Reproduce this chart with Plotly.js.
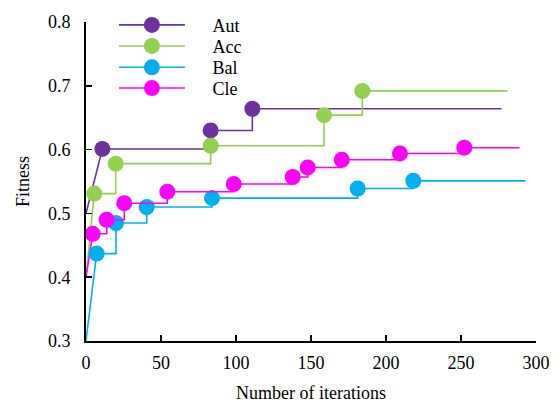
<!DOCTYPE html>
<html>
<head>
<meta charset="utf-8">
<script src="https://cdn.plot.ly/plotly-3.0.1.min.js"></script>
<style>html,body{margin:0;padding:0;background:#fff}#chart{width:560px;height:403px}</style>
</head>
<body>
<div id="chart"></div>
<script>
// ---- data ----
const seriesNames = ["Aut", "Acc", "Bal", "Cle"];
const seriesColors = ["#7030A0", "#92D050", "#00B0F0", "#FF00FF"];

const autStart = [0, 0.5];
const autX = [10.9, 83.1, 110.9];
const autY = [0.601, 0.630, 0.664];
const autEnd = 277;

const accStart = [0, 0.4];
const accX = [5.5, 19.8, 83.1, 158.7, 184.2];
const accY = [0.531, 0.578, 0.606, 0.654, 0.692];
const accEnd = 281;

const balStart = [0, 0.3];
const balX = [7.1, 20.0, 40.5, 84.0, 181.1, 218.2];
const balY = [0.437, 0.485, 0.510, 0.524, 0.539, 0.551];
const balEnd = 293;

const cleStart = [0, 0.4];
const cleX = [4.5, 13.8, 25.5, 54.2, 98.5, 137.8, 147.8, 170.5, 209.3, 252.2];
const cleY = [0.468, 0.490, 0.516, 0.534, 0.546, 0.557, 0.572, 0.584, 0.594, 0.603];
const cleEnd = 289;

const xTicks = [0, 50, 100, 150, 200, 250, 300];
const yTicks = [0.3, 0.4, 0.5, 0.6, 0.7, 0.8];

// ---- traces ----
const all = [
  [autStart, autX, autY, autEnd],
  [accStart, accX, accY, accEnd],
  [balStart, balX, balY, balEnd],
  [cleStart, cleX, cleY, cleEnd]
];

const FONT = "Liberation Serif, Times New Roman, serif";
const FS = 18;
const legendIds = ["legend", "legend2", "legend3", "legend4"];
const legendRowY = [0.990, 0.924, 0.857, 0.792];
const pad = "\u00a0\u00a0\u00a0\u00a0\u00a0";

const helpers = [];
const mains = [];
all.forEach((s, i) => {
  const [st, xs, ys, end] = s;
  const last = xs.length - 1;
  helpers.push({
    x: [st[0], xs[0], null, xs[last], end],
    y: [st[1], ys[0], null, ys[last], ys[last]],
    mode: "lines",
    line: {color: seriesColors[i], width: 1.6},
    showlegend: false,
    hoverinfo: "skip"
  });
  mains.push({
    x: xs, y: ys,
    name: pad + seriesNames[i],
    mode: "lines+markers",
    line: {color: seriesColors[i], width: 1.6, shape: "hv"},
    marker: {color: seriesColors[i], size: 16},
    legend: legendIds[i]
  });
});

const layout = {
  width: 560, height: 403,
  margin: {l: 86, r: 24, t: 22, b: 62, autoexpand: false},
  paper_bgcolor: "#fff", plot_bgcolor: "#fff",
  font: {family: FONT, size: FS, color: "#000"},
  showlegend: true,
  xaxis: {
    range: [0, 300], tickvals: xTicks, ticktext: xTicks.map(String),
    showline: true, linecolor: "#000", linewidth: 2, mirror: false,
    ticks: "inside", ticklen: 6, tickwidth: 1.5, tickcolor: "#000",
    showgrid: false, zeroline: false, ticklabelstandoff: 4,
    title: {text: "Number of iterations", font: {family: FONT, size: FS}, standoff: 20},
    tickfont: {family: FONT, size: FS}
  },
  yaxis: {
    range: [0.3, 0.8], tickvals: yTicks, ticktext: yTicks.map(v => v.toFixed(1)),
    showline: true, linecolor: "#000", linewidth: 2, mirror: false,
    ticks: "inside", ticklen: 6, tickwidth: 1.5, tickcolor: "#000",
    showgrid: false, zeroline: false, ticklabelstandoff: 10,
    title: {text: "Fitness", font: {family: FONT, size: FS}, standoff: 14},
    tickfont: {family: FONT, size: FS}
  }
};
legendIds.forEach((id, i) => {
  layout[id] = {
    x: 0.062, y: legendRowY[i], xanchor: "left", yanchor: "middle",
    bgcolor: "rgba(0,0,0,0)", itemwidth: 66,
    font: {family: FONT, size: FS, color: "#000"}
  };
});

Plotly.newPlot("chart", helpers.concat(mains), layout, {displayModeBar: false, staticPlot: true});
</script>
</body>
</html>
